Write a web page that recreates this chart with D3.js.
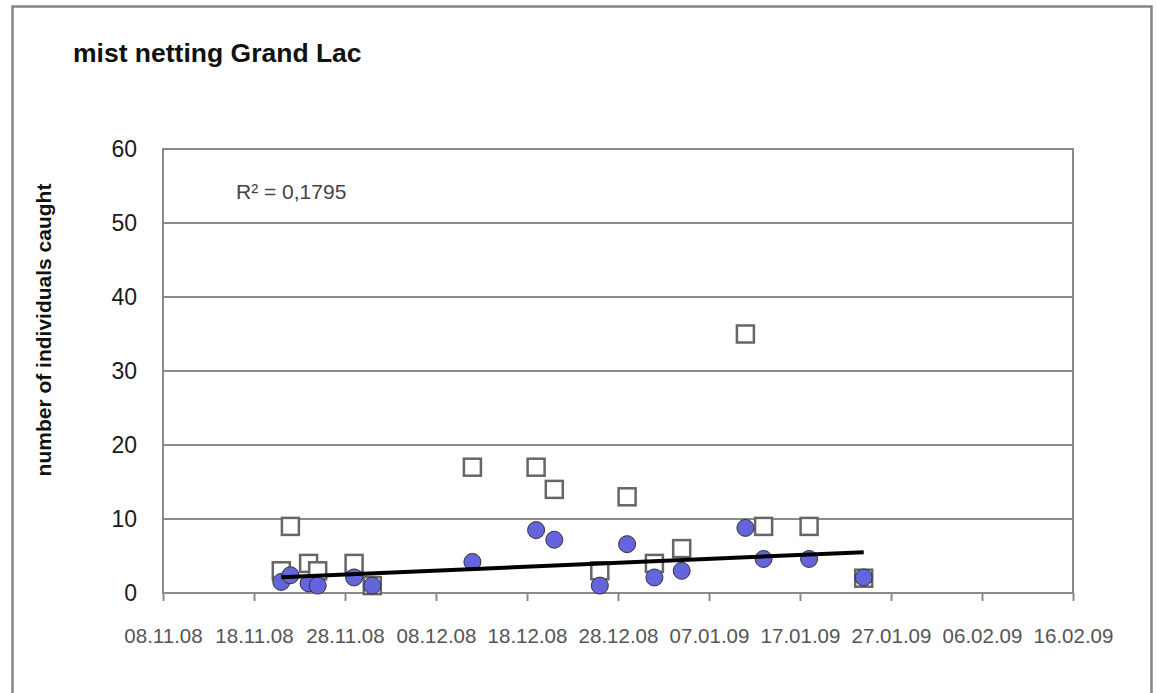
<!DOCTYPE html>
<html>
<head>
<meta charset="utf-8">
<script src="https://cdn.jsdelivr.net/npm/d3@7"></script>
<style>
	body { margin: 0; background: #fff; }
	svg { display: block; font-family: "Liberation Sans", Arial, sans-serif; }
</style>
</head>
<body>
<div id="chart"></div>
<script>
//catch dates, mist netting Grand Lac
var dates = ["21.11.08","22.11.08","24.11.08","25.11.08","29.11.08","01.12.08","12.12.08","19.12.08","21.12.08","26.12.08","29.12.08","01.01.09","04.01.09","11.01.09","13.01.09","18.01.09","24.01.09"];
//white squares
var squareValues = [3, 9, 4, 3, 4, 1, 17, 17, 14, 3, 13, 4, 6, 35, 9, 9, 2];
//blue circles (trendline series)
var circleValues = [1.5, 2.4, 1.3, 1.0, 2.1, 1.0, 4.2, 8.5, 7.2, 1.0, 6.6, 2.1, 3.0, 8.8, 4.6, 4.6, 2.1];
var xDomain = ["08.11.08", "16.02.09"];
var yTicks = [0, 10, 20, 30, 40, 50, 60];
var rSquaredLabel = "R² = 0,1795";
var titleText = "mist netting Grand Lac";
var yTitleText = "number of individuals caught";

var width = 1157, height = 693;
var margin = { top: 149, right: 84, bottom: 100, left: 163 };
var parse = d3.utcParse("%d.%m.%y");
var fmt = d3.utcFormat("%d.%m.%y");

var svg = d3.select('#chart').append('svg')
	.attr('width', width)
	.attr('height', height);

//outer chart frame
svg.append('rect')
	.attr('x', 12.5).attr('y', 6.5)
	.attr('width', 1139).attr('height', 720)
	.style('fill', 'none')
	.style('stroke', '#858585')
	.style('stroke-width', 2.5);

var x = d3.scaleUtc()
	.domain(xDomain.map(parse))
	.range([margin.left, width - margin.right]);

var y = d3.scaleLinear()
	.domain([0, 60])
	.range([height - margin.bottom, margin.top]);

//gridlines
svg.append('g').selectAll('line')
	.data(yTicks)
	.enter().append('line')
	.attr('x1', x.range()[0]).attr('x2', x.range()[1])
	.attr('y1', function(d) { return y(d); })
	.attr('y2', function(d) { return y(d); })
	.style('stroke', '#8a8a8a')
	.style('stroke-width', 2);

//plot border
svg.append('rect')
	.attr('x', x.range()[0]).attr('y', y(60))
	.attr('width', x.range()[1] - x.range()[0])
	.attr('height', y(0) - y(60))
	.style('fill', 'none')
	.style('stroke', '#8a8a8a')
	.style('stroke-width', 2);

//x axis, one tick every 10 days
var xTicks = d3.utcDay.range(x.domain()[0], d3.utcDay.offset(x.domain()[1], 1), 10);
var xAxis = svg.append('g')
	.attr('transform', 'translate(0,' + y(0) + ')')
	.call(d3.axisBottom(x).tickValues(xTicks).tickFormat(fmt).tickSizeInner(8).tickSizeOuter(0).tickPadding(27));
xAxis.select('.domain').remove();
xAxis.selectAll('line').style('stroke', '#8a8a8a').style('stroke-width', 2);
xAxis.selectAll('text')
	.style('font-size', '20.5px')
	.style('fill', '#555')
	.style('font-family', '"Liberation Sans", Arial, sans-serif');

//y axis labels
var yAxis = svg.append('g')
	.attr('transform', 'translate(' + x.range()[0] + ',0)')
	.call(d3.axisLeft(y).tickValues(yTicks).tickSize(0).tickPadding(26));
yAxis.select('.domain').remove();
yAxis.selectAll('text')
	.style('font-size', '23px')
	.style('fill', '#1a1a1a')
	.style('font-family', '"Liberation Sans", Arial, sans-serif');

//squares
svg.append('g').selectAll('rect')
	.data(dates)
	.enter().append('rect')
	.attr('x', function(d) { return x(parse(d)) - 8.5; })
	.attr('y', function(d, i) { return y(squareValues[i]) - 8.5; })
	.attr('width', 17).attr('height', 17)
	.style('fill', '#fff')
	.style('stroke', '#666')
	.style('stroke-width', 2.5);

//circles
svg.append('g').selectAll('circle')
	.data(dates)
	.enter().append('circle')
	.attr('cx', function(d) { return x(parse(d)); })
	.attr('cy', function(d, i) { return y(circleValues[i]); })
	.attr('r', 8.5)
	.style('fill', '#6464dc')
	.style('stroke', '#333')
	.style('stroke-width', 1);

//linear trendline of the circle series (least squares)
var xs = dates.map(function(d) { return +parse(d); });
var mx = d3.mean(xs), my = d3.mean(circleValues);
var sxy = d3.sum(xs, function(v, i) { return (v - mx) * (circleValues[i] - my); });
var sxx = d3.sum(xs, function(v) { return (v - mx) * (v - mx); });
var slope = sxy / sxx, icpt = my - slope * mx;
var ends = d3.extent(xs);
svg.append('path')
	.datum(ends)
	.attr('d', d3.line()
		.x(function(d) { return x(new Date(d)); })
		.y(function(d) { return y(icpt + slope * d); }))
	.style('fill', 'none')
	.style('stroke', '#000')
	.style('stroke-width', 4);

//R² label
svg.append('text')
	.attr('x', 236).attr('y', 199)
	.style('font-size', '21px')
	.style('fill', '#444')
	.text(rSquaredLabel);

//title
svg.append('text')
	.attr('x', 73).attr('y', 62)
	.style('font-size', '26.5px')
	.style('font-weight', 'bold')
	.style('fill', '#111')
	.text(titleText);

//y axis title
svg.append('text')
	.attr('transform', 'translate(44,330) rotate(-90)')
	.attr('dy', '0.35em')
	.attr('text-anchor', 'middle')
	.style('font-size', '21px')
	.style('font-weight', 'bold')
	.style('fill', '#111')
	.text(yTitleText);
</script>
</body>
</html>
